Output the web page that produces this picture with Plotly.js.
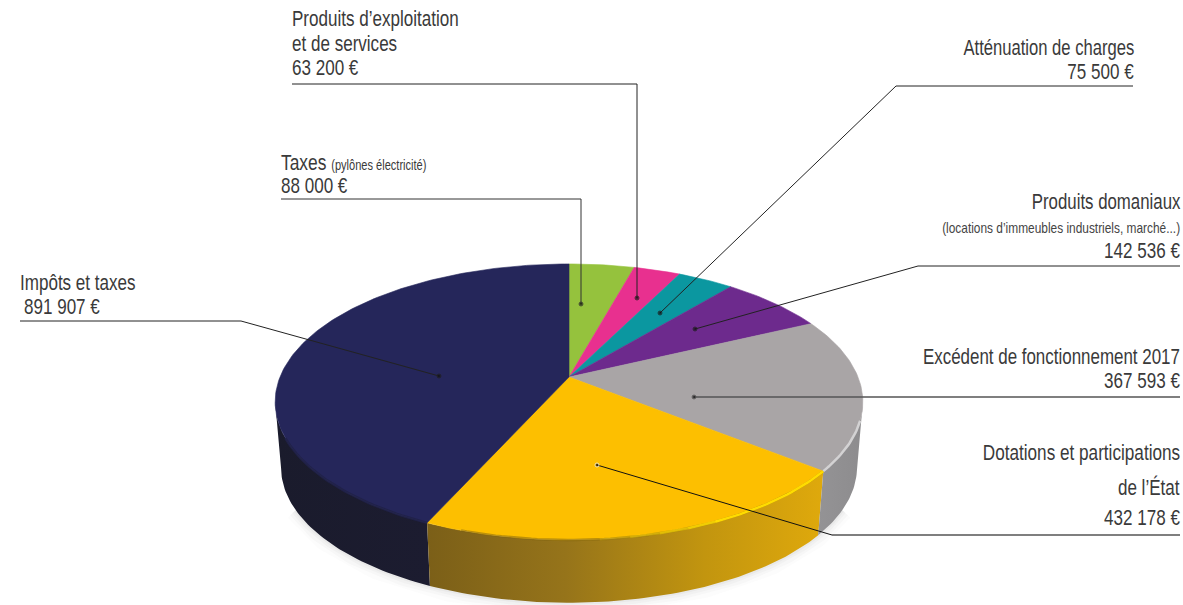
<!DOCTYPE html>
<html><head><meta charset="utf-8">
<script src="https://cdn.plot.ly/plotly-3.0.1.min.js"></script>
<style>html,body{margin:0;padding:0;background:#fff}#c{width:1183px;height:605px}</style>
</head><body><div id="c"></div>
<script>
// ---- data ----
const categories = ["Taxes","Produits d’exploitation et de services","Atténuation de charges","Produits domaniaux","Excédent de fonctionnement 2017","Dotations et participations de l’État","Impôts et taxes"];
const amounts = [88000,63200,75500,142536,367593,432178,891907];
const amountLabels = ["88 000 €","63 200 €","75 500 €","142 536 €","367 593 €","432 178 €","891 907 €"];
const sliceColors = ["#95c23d","#e8308f","#0b97a0","#6d2a8d","#a9a5a6","#fdbf00","#25265a"];

// ---- drawing helpers: perspective projection of a disc ----
const VX=569, VY=377, R=289, H=133.5, K=0.181, DROP=66, SHRINK=0.98, FONT='"Liberation Sans",sans-serif';
const EDGE_R=100.4, EDGE_L=259.6;
const total = amounts.reduce((a,b)=>a+b,0);
function topPt(deg){const t=deg*Math.PI/180,X=Math.sin(t),Y=Math.cos(t),w=1+K*Y;return [VX+R*X/w,VY-H*Y/w];}
function botPt(deg){const t=deg*Math.PI/180,X=Math.sin(t),Y=Math.cos(t),w=1+K*Y;return [VX+SHRINK*R*X/w,VY+DROP-SHRINK*H*Y/w];}
function arc(f,a,b){const n=Math.max(2,Math.ceil(Math.abs(b-a)));const o=[];for(let i=0;i<=n;i++)o.push(f(a+(b-a)*i/n));return o;}
const bounds=[0];amounts.forEach(v=>bounds.push(bounds[bounds.length-1]+v/total*360));
const poly=(pts,extra)=>Object.assign({x:pts.map(p=>p[0]),y:pts.map(p=>p[1]),mode:'lines',hoverinfo:'skip',showlegend:false},extra);

const traces=[];
// soft cast shadow
[[22,.02],[15,.03],[9,.04],[4,.05]].forEach(s=>{
  traces.push(poly(arc(botPt,118,242),{line:{color:`rgba(90,90,90,${s[1]})`,width:s[0]}}));
});
// side walls
function wall(a,b,stops,name){
  const pts=arc(topPt,a,b).concat(arc(botPt,b,a));pts.push(pts[0]);
  traces.push(poly(pts,{name,fill:'toself',line:{width:0},fillgradient:{type:'horizontal',colorscale:stops}}));
}
wall(bounds[6],EDGE_L,[[0,'#1a1b2c'],[1,'#1c1c30']],categories[6]);
wall(bounds[5],bounds[6],[[0,'#7b5f18'],[.35,'#96741a'],[.7,'#c2950f'],[1,'#dfa90c']],categories[5]);
wall(EDGE_R,bounds[5],[[0,'#949395'],[1,'#8d8c8e']],categories[4]);
// top faces
amounts.forEach((v,i)=>{
  const pts=[[VX,VY]].concat(arc(topPt,bounds[i],bounds[i+1]));pts.push([VX,VY]);
  traces.push(poly(pts,{name:categories[i],fill:'toself',fillcolor:sliceColors[i],line:{color:sliceColors[i],width:.6}}));
});
// rim highlights
traces.push(poly(arc(topPt,bounds[5],198),{line:{color:'rgba(125,97,15,.5)',width:2.5}}));
traces.push(poly(arc(topPt,bounds[5],155),{line:{color:'#ffdc00',width:2.5}}));
[[155,160,.8],[160,165,.6],[165,170,.4],[170,175,.2]].forEach(s=>{
  traces.push(poly(arc(topPt,s[0],s[1]),{line:{color:`rgba(255,220,0,${s[2]})`,width:2.5}}));
});
traces.push(poly(arc(topPt,108,bounds[5]),{line:{color:'#d3d2d3',width:2.5}}));
traces.push(poly(arc(topPt,bounds[6],245),{line:{color:'rgba(32,33,72,.9)',width:2.5}}));

// leader lines
const leaders=[
 {c:'#222',w:1,x:[292,637,637],y:[84,84,298],dot:1},
 {c:'#333',w:1,x:[281,581,581],y:[199,199,304],dot:1},
 {c:'#222',w:1,x:[20,241,439],y:[321,321,376],dot:1},
 {c:'#222',w:1,x:[1133,896,660],y:[86,86,313],dot:1},
 {c:'#222',w:1,x:[1180,918,695],y:[266,266,329],dot:1},
 {c:'#555',w:1.3,x:[1180,694],y:[397,397],dot:1},
 {c:'#555',w:1.3,x:[1180,832],y:[535,535],dot:0},
 {c:'#111',w:1,x:[832,597],y:[535,465],dot:1}
];
leaders.forEach(l=>traces.push({x:l.x,y:l.y,mode:'lines+markers',hoverinfo:'skip',showlegend:false,
  line:{color:l.c,width:l.w},marker:{color:'#111',size:l.x.map((_,i)=>(l.dot&&i==l.x.length-1)?4:0)}}));

// text lines (sx = horizontal squeeze, to imitate the condensed face of the original)
const T=(text,x,y,anchor,sx,size,color)=>({text,x,y:y-1,xref:'x',yref:'y',xanchor:anchor,yanchor:'middle',showarrow:false,
  font:{family:FONT,size:size||22,color:color||'#3a3a3a'},align:anchor,xshift:anchor==='left'?-2:2,_sx:sx});
const lines=[
 T("Produits d’exploitation",292,19,'left',.775),
 T("et de services",292,44,'left',.775),
 T(amountLabels[1],292,68,'left',.775),
 T('Taxes <span style="font-size:14px">(pylônes électricité)</span>',281,163,'left',.79),
 T(amountLabels[0],281,186,'left',.775),
 T(categories[6],20,283,'left',.775),
 T(amountLabels[6],24,307,'left',.775),
 T(categories[2],1134,48,'right',.755),
 T(amountLabels[2],1134,72,'right',.775),
 T(categories[3],1180,202,'right',.765),
 T("(locations d’immeubles industriels, marché...)",1180,229,'right',.85,14,'#444'),
 T(amountLabels[3],1180,251,'right',.775),
 T(categories[4],1180,357,'right',.77),
 T(amountLabels[4],1180,381,'right',.775),
 T("Dotations et participations",1180,453,'right',.78),
 T("de l’État",1180,488,'right',.775),
 T(amountLabels[5],1180,518,'right',.775)
];
const squeeze=lines.map(l=>l._sx);
const annotations=lines.map(l=>{const c=Object.assign({},l);delete c._sx;return c;});
const ax=r=>({range:r,visible:false,fixedrange:true,showgrid:false,zeroline:false});
Plotly.newPlot('c',traces,{
  width:1183,height:605,margin:{l:0,r:0,t:0,b:0},paper_bgcolor:'#fff',plot_bgcolor:'#fff',
  xaxis:ax([0,1183]),yaxis:ax([605,0]),annotations,showlegend:false
},{displayModeBar:false,staticPlot:true}).then(()=>{
  document.querySelectorAll('#c .annotation').forEach((g,i)=>{
    const t=g.querySelector('text');if(!t)return;
    const b=t.getBBox();const px=annotations[i].xanchor==='left'?b.x:b.x+b.width;
    t.setAttribute('transform',`translate(${px},0) scale(${squeeze[i]},1) translate(${-px},0)`);
  });
});
</script></body></html>
